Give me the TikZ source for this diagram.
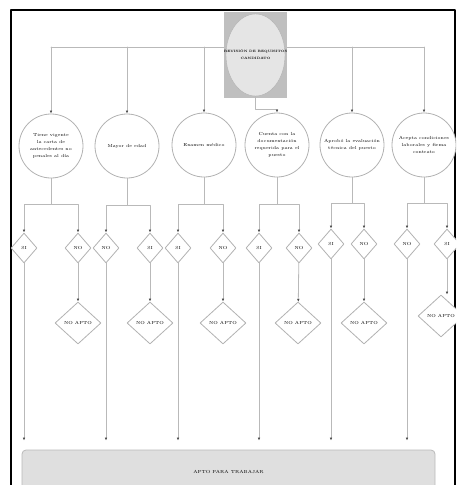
\documentclass[tikz,border=0pt]{standalone}
\usetikzlibrary{arrows.meta, shapes.geometric}

\begin{document}
\begin{tikzpicture}[x=1pt, y=-1pt, >={Latex[length=3pt,width=2.6pt,color=black!70]},
	line cap=round, line join=round, font=\fontsize{4.4}{7}\selectfont,
	link/.style={draw=gray!55, line width=0.8pt},
	flow/.style={link, ->},
	check/.style={circle, draw=gray!60, line width=0.8pt, fill=white,
		minimum size=64pt, inner sep=1pt, align=center},
	ask/.style={diamond, draw=gray!60, line width=0.8pt, fill=white,
		minimum width=26pt, minimum height=30pt, inner sep=0pt},
	reject/.style={diamond, draw=gray!60, line width=0.8pt, fill=white,
		minimum width=46pt, minimum height=42pt, inner sep=0pt}]

\clip (0,0) rectangle (456,485);
\useasboundingbox (0,0) rectangle (456,485);

% frame
\draw[line width=1.3pt] (11,10) rectangle (455,500);

% ================= Top: start =================
\coordinate (bar) at (0,47);
\draw[link] (51,47) -- (424,47);
\node[fill=gray!50, minimum width=63pt, minimum height=86pt] (topbox) at (255.5,55) {};
\node[ellipse, draw=gray!60, fill=gray!20, minimum width=59pt, minimum height=82pt,
	inner sep=0pt] (start) at (255.5,55) {};
\node[font=\fontsize{3.2}{7}\selectfont\bfseries, align=center] (startlbl) at (start)
	{REVISIÓN DE REQUISITOS\\CANDIDATO};

% ================= Requirements =================
\node[check] (c1) at (51,146) {Tiene vigente\\la carta de\\antecedentes no\\penales al día};
\node[check] (c2) at (127,146) {Mayor de edad};
\node[check] (c3) at (204,145) {Examen médico};
\node[check] (c4) at (277,145) {Cuenta con la\\documentación\\requerida para el\\puesto};
\node[check] (c5) at (352,145) {Aprobó la evaluación\\técnica del puesto};
\node[check] (c6) at (424,145) {Acepta condiciones\\laborales y firma\\contrato};

\draw[flow] (c1 |- bar) -- (c1);
\draw[flow] (c2 |- bar) -- (c2);
\draw[flow] (c3 |- bar) -- (c3);
\draw[flow] (c5 |- bar) -- (c5);
\draw[flow] (c6 |- bar) -- (c6);
\draw[flow] (start.south) -- ++(0,13) -| (c4.north);

% ================= Answers =================
\node[ask] (a1l) at (24,248) {SI};   \node[ask] (a1r) at (78,248) {NO};
\node[ask] (a2l) at (106,248) {NO};  \node[ask] (a2r) at (150,248) {SI};
\node[ask] (a3l) at (178,248) {SI};  \node[ask] (a3r) at (223,248) {NO};
\node[ask] (a4l) at (259,248) {SI};  \node[ask] (a4r) at (299,248) {NO};
\node[ask] (a5l) at (331,244) {SI};  \node[ask] (a5r) at (364,244) {NO};
\node[ask] (a6l) at (407,244) {NO};  \node[ask] (a6r) at (447,244) {SI};

\draw[flow] (c1.south) -- ++(0,26) -| (a1l); \draw[flow] (c1.south) -- ++(0,26) -| (a1r);
\draw[flow] (c2.south) -- ++(0,27) -| (a2l); \draw[flow] (c2.south) -- ++(0,27) -| (a2r);
\draw[flow] (c3.south) -- ++(0,27) -| (a3l); \draw[flow] (c3.south) -- ++(0,27) -| (a3r);
\draw[flow] (c4.south) -- ++(0,27) -| (a4l); \draw[flow] (c4.south) -- ++(0,27) -| (a4r);
\draw[flow] (c5.south) -- ++(0,26) -| (a5l); \draw[flow] (c5.south) -- ++(0,26) -| (a5r);
\draw[flow] (c6.south) -- ++(0,26) -| (a6l); \draw[flow] (c6.south) -- ++(0,26) -| (a6r);

% ================= Not suitable =================
\node[reject] (x1) at (78,323) {NO APTO};
\node[reject] (x2) at (150,323) {NO APTO};
\node[reject] (x3) at (223,323) {NO APTO};
\node[reject] (x4) at (298,323) {NO APTO};
\node[reject] (x5) at (364,323) {NO APTO};
\node[reject] (x6) at (441,316) {NO APTO};

\draw[flow] (a1r) -- (x1); \draw[flow] (a2r) -- (x2); \draw[flow] (a3r) -- (x3);
\draw[flow] (a4r) -- (x4); \draw[flow] (a5r) -- (x5); \draw[flow] (a6r) -- (a6r |- x6.north);

% ================= Bottom: suitable =================
\node[draw=gray!55, line width=0.8pt, fill=gray!25, rounded corners=4pt,
	minimum width=413pt, minimum height=44pt] (fit) at (228.5,472) {APTO PARA TRABAJAR};

\draw[flow, shorten >=9pt] (a1l) -- (a1l |- fit.north);
\draw[flow, shorten >=9pt] (a2l) -- (a2l |- fit.north);
\draw[flow, shorten >=9pt] (a3l) -- (a3l |- fit.north);
\draw[flow, shorten >=9pt] (a4l) -- (a4l |- fit.north);
\draw[flow, shorten >=9pt] (a5l) -- (a5l |- fit.north);
\draw[flow, shorten >=9pt] (a6l) -- (a6l |- fit.north);

\end{tikzpicture}
\end{document}
